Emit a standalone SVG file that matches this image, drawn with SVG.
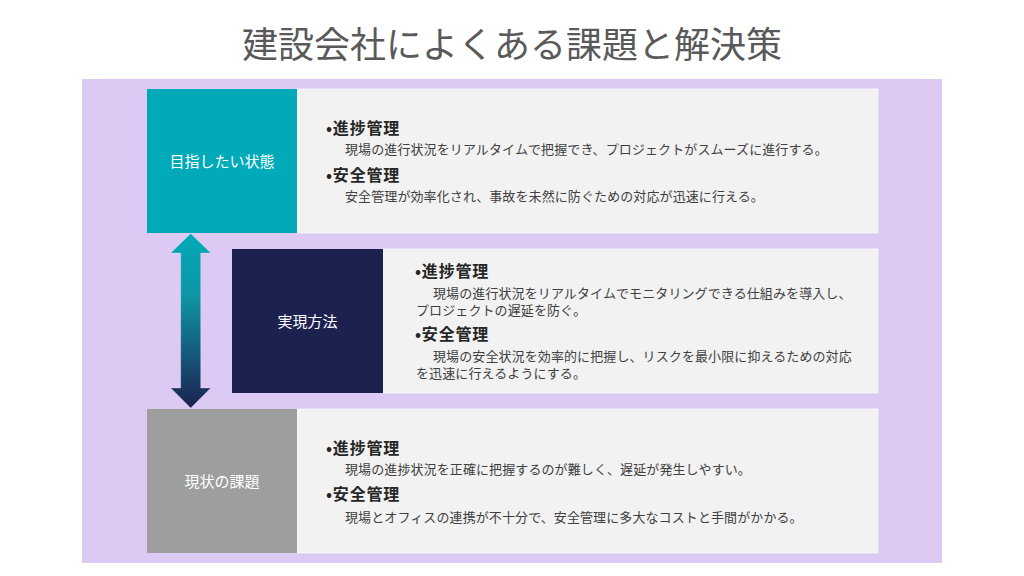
<svg xmlns="http://www.w3.org/2000/svg" width="1024" height="576" viewBox="0 0 1024 576">
<defs>
<linearGradient id="arrowGrad" x1="0" y1="0" x2="0" y2="1">
<stop offset="0" stop-color="#00AAB9"/>
<stop offset="0.35" stop-color="#0E96A6"/>
<stop offset="1" stop-color="#1C2150"/>
</linearGradient>
</defs>
<style>
text { font-family: "Noto Sans CJK JP", "Noto Sans", sans-serif; }
.title { font-size: 36px; fill: #595959; font-weight: 400; }
.label { font-size: 15px; fill: #FFFFFF; font-weight: 400; }
.head { font-size: 16px; fill: #262626; font-weight: 700; letter-spacing: 0.8px; }
.body { font-size: 13px; fill: #404040; letter-spacing: 0.1px; }
.panel { fill: #F2F2F2; stroke: #FFFFFF; stroke-opacity: 0.6; stroke-width: 1; }
</style>
<rect width="1024" height="576" fill="#FFFFFF"/>
<text class="title" x="512" y="58" text-anchor="middle">建設会社によくある課題と解決策</text>
<rect id="background" x="82" y="79" width="860" height="484" fill="#DCCAF5"/>

<g id="connectors">
<path d="M190.7,233.5 L210.7,253 L200.7,253 L200.7,388 L210.7,388 L190.7,408 L170.7,388 L180.7,388 L180.7,253 L170.7,253 Z" fill="url(#arrowGrad)" stroke="#FFFFFF" stroke-opacity="0.3" stroke-width="0.8"/>
</g>

<g id="node-goal">
<rect class="panel" x="297" y="89" width="581" height="144"/>
<rect x="147" y="89" width="150" height="144" fill="#00AAB9"/>
<text class="label" x="222" y="167" text-anchor="middle">目指したい状態</text>
<text class="head" x="326" y="134">•進捗管理</text>
<text class="body" x="345" y="154">現場の進行状況をリアルタイムで把握でき、プロジェクトがスムーズに進行する。</text>
<text class="head" x="326" y="181">•安全管理</text>
<text class="body" x="345" y="201">安全管理が効率化され、事故を未然に防ぐための対応が迅速に行える。</text>
</g>

<g id="node-method">
<rect class="panel" x="383" y="249" width="495" height="144"/>
<rect x="232" y="249" width="151" height="144" fill="#1C2150"/>
<text class="label" x="307.5" y="327" text-anchor="middle">実現方法</text>
<text class="head" x="415" y="277">•進捗管理</text>
<text class="body" x="433" y="298">現場の進行状況をリアルタイムでモニタリングできる仕組みを導入し、</text>
<text class="body" x="416" y="315">プロジェクトの遅延を防ぐ。</text>
<text class="head" x="415" y="340">•安全管理</text>
<text class="body" x="433" y="361">現場の安全状況を効率的に把握し、リスクを最小限に抑えるための対応</text>
<text class="body" x="416" y="378">を迅速に行えるようにする。</text>
</g>

<g id="node-current">
<rect class="panel" x="297" y="409" width="581" height="144"/>
<rect x="147" y="409" width="150" height="144" fill="#9E9E9E"/>
<text class="label" x="222" y="487" text-anchor="middle">現状の課題</text>
<text class="head" x="326" y="454">•進捗管理</text>
<text class="body" x="345" y="474">現場の進捗状況を正確に把握するのが難しく、遅延が発生しやすい。</text>
<text class="head" x="326" y="500">•安全管理</text>
<text class="body" x="345" y="522">現場とオフィスの連携が不十分で、安全管理に多大なコストと手間がかかる。</text>
</g>
</svg>
